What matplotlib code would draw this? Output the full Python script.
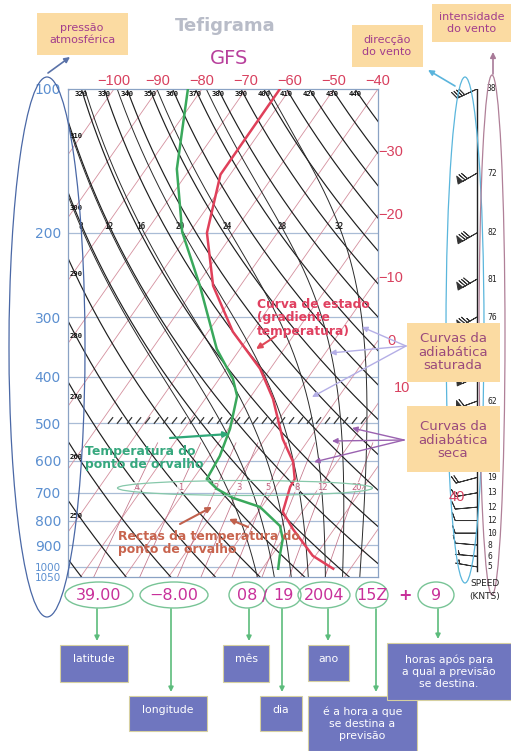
import numpy as np
import matplotlib
matplotlib.use("Agg")
import matplotlib.pyplot as plt
from matplotlib.patches import Ellipse, Rectangle
from matplotlib.ticker import NullLocator

W, H = 511, 751

# GFS profile for 39.00 -8.00, 08/19/2004 15Z + 9h
temp_p = [100, 151, 200, 258, 322, 385, 445, 540, 603, 655, 680, 767, 833, 948, 1009]
temp_c = [-62.3, -62.2, -56.0, -46.2, -34.4, -22.3, -14.6, -6.0, 0.0, 3.1, 3.3, 5.6, 10.6, 19.4, 26.1]
dewp_p = [100, 147, 199, 258, 350, 404, 439, 514, 586, 655, 687, 717, 749, 821, 874, 948, 1009]
dewp_c = [-83.2, -73.0, -61.8, -49.2, -35.3, -26.9, -23.2, -19.6, -17.6, -16.9, -13.0, -8.0,
          -0.4, 7.2, 9.9, 11.9, 13.6]

wind_p = [100, 150, 200, 250, 300, 350, 400, 450, 500, 550, 600, 650, 700, 750, 800, 850, 900, 950, 1000]
wind_kt = [38, 72, 82, 81, 76, 70, 66, 62, 50, 38, 28, 19, 13, 12, 12, 10, 8, 6, 5]
wind_dir = [245, 240, 240, 240, 240, 245, 245, 250, 250, 250, 255, 255, 260, 265, 270, 270, 275, 275, 280]

press_ticks = [100, 200, 300, 400, 500, 600, 700, 800, 900, 1000, 1050]
isobars = [200, 300, 400, 500, 600, 700, 800, 900, 1000]
isotherms = np.arange(-160, 60, 10)
top_temps = [-100, -90, -80, -70, -60, -50, -40]
side_temps = [-30, -20, -10, 0]
theta_k = np.arange(220, 450, 10)
theta_top = np.arange(320, 450, 10)
theta_side = np.arange(250, 320, 10)
theta_w = [8, 12, 16, 20, 24, 28, 32]
mix_gkg = [0.4, 1, 2, 3, 5, 8, 12, 20]
mix_text = ['.4', '1', '2', '3', '5', '8', '12', '20']
hatch_p = 500

header_vals = ['39.00', '\u22128.00', '08', '19', '2004', '15Z', '9']

SKEW = 33.0
XMIN, XMAX = -110.45, -40.0


def skx(t, p):
    return np.asarray(t, float) - SKEW * np.log(np.asarray(p, float) / 100.0)


def theta_temp(th, p):
    return th * (np.asarray(p) / 1000.0) ** 0.2857 - 273.15


RD, CP, LV, EPS = 287.04, 1005.7, 2.501e6, 0.622


def dt_dlnp(tk, p):
    tc = tk - 273.15
    e = 6.112 * np.exp(17.67 * tc / (tc + 243.5))
    rs = EPS * e / (p - e)
    return (RD * tk + LV * rs) / (CP + LV * LV * rs * EPS / (RD * tk * tk))


def moist_adiabat(tw):
    # pseudo-adiabat through (1000 hPa, tw), integrated both ways in ln p
    out = {}
    for lo, hi in ((1000.0, 100.0), (1000.0, 1050.0)):
        lnp = np.linspace(np.log(lo), np.log(hi), 300)
        tk = tw + 273.15
        ts = [tk]
        for a, b in zip(lnp[:-1], lnp[1:]):
            h = b - a
            k1 = dt_dlnp(tk, np.exp(a))
            k2 = dt_dlnp(tk + h * k1, np.exp(b))
            tk = tk + 0.5 * h * (k1 + k2)
            ts.append(tk)
        out[hi] = (np.exp(lnp), np.array(ts) - 273.15)
    p = np.concatenate([out[1050.0][0][::-1], out[100.0][0][1:]])
    t = np.concatenate([out[1050.0][1][::-1], out[100.0][1][1:]])
    return p, t


def mix_temp(w, p):
    e = w / 1000.0 * p / (EPS + w / 1000.0)
    g = np.log(e / 6.112)
    return 243.5 * g / (17.67 - g)


fig = plt.figure(figsize=(W / 100, H / 100), dpi=100)


def frac(x0, y0, x1, y1):
    return [x0 / W, 1 - y1 / H, (x1 - x0) / W, (y1 - y0) / H]


# ---- thermodynamic diagram ----
ax = fig.add_axes(frac(68, 89, 378, 577))
ax.set_yscale('log')
ax.set_ylim(1050, 100)
ax.set_xlim(XMIN, XMAX)
for s in ax.spines.values():
    s.set_color('#8aa2c4')
    s.set_linewidth(0.9)

for p in isobars:
    ax.axhline(p, color='#a9bcd6', lw=0.9, zorder=1)

for t in isotherms:
    ax.plot(skx(t, [100, 1050]), [100, 1050], color='#d4909e', lw=0.6, zorder=1)

pp = np.geomspace(100, 1050, 160)
for th in theta_k:
    ax.plot(skx(theta_temp(th, pp), pp), pp, color='#1e1e1e', lw=0.85, zorder=2)

for tw in theta_w:
    mp, mt = moist_adiabat(tw)
    ax.plot(skx(mt, mp), mp, color='#2a2a2a', lw=0.7, zorder=2)
    x200 = np.interp(np.log(200), np.log(mp[::-1]), skx(mt, mp)[::-1])
    ax.annotate(str(tw), (x200, 200), xytext=(-2, 1), textcoords='offset points',
                ha='center', va='bottom', fontsize=5.5, family='DejaVu Sans Mono',
                fontweight='bold', color='#222', annotation_clip=False)

mpres = np.geomspace(550, 1050, 40)
for w, lbl in zip(mix_gkg, mix_text):
    ax.plot(skx(mix_temp(w, mpres), mpres), mpres, color='#c27489', lw=0.55, zorder=1)
    ax.text(skx(mix_temp(w, 681), 681), 681, lbl, fontsize=6, color='#c0607e',
            ha='center', va='center', zorder=3,
            bbox=dict(fc='white', ec='none', pad=0.3, alpha=0.8))

# hatched marker along 500 hPa
hx = np.arange(-100.8, -43.0, 2.05)
ax.plot(hx, np.full(len(hx), hatch_p * 0.985), ls='none', marker=(2, 0, -38), ms=6,
        mew=0.9, color='#333333', zorder=3)

ax.plot(skx(temp_c, temp_p), temp_p, color='#e0405a', lw=1.8, zorder=4)
ax.plot(skx(dewp_c, dewp_p), dewp_p, color='#3aa85c', lw=1.8, zorder=4)

ax.set_xticks([])
ax.set_yticks(press_ticks)
ax.set_yticklabels([str(v) for v in press_ticks])
ax.yaxis.set_minor_locator(NullLocator())
ax.tick_params(axis='y', length=0, pad=5, labelsize=10, labelcolor='#5b8fd0')
# the two bottom levels sit very close together
for lab in ax.get_yticklabels()[-2:]:
    lab.set_fontsize(7.5)

for t in top_temps:
    ax.annotate('\u2212%d' % abs(t), (skx(t, 100), 100), xytext=(0, 0.5),
                textcoords='offset points', ha='center', va='bottom', fontsize=10.5,
                family='Liberation Sans', color='#d8405e', annotation_clip=False)
for t in side_temps:
    lbl = '\u2212%d' % abs(t) if t < 0 else str(t)
    p = 100 * np.exp((t - XMAX) / SKEW)
    ax.annotate(lbl, (XMAX, p), xytext=(0.5 if t < 0 else 7, 0), textcoords='offset points',
                ha='left', va='center', fontsize=10.5, family='Liberation Sans',
                color='#d8405e', annotation_clip=False)

for th in theta_top:
    ax.annotate(str(th), (skx(theta_temp(th, 100), 100), 100), xytext=(0, -1.5),
                textcoords='offset points', ha='center', va='top', fontsize=5.2,
                family='DejaVu Sans Mono', fontweight='bold', color='#111', zorder=5)
fine = np.geomspace(100, 1050, 2000)
for th in theta_side:
    xs = skx(theta_temp(th, fine), fine)
    pc = fine[np.argmin(np.abs(xs - XMIN))]
    ax.annotate(str(th), (XMIN, pc), xytext=(1, -9), textcoords='offset points',
                ha='left', va='top', fontsize=5.2, family='DejaVu Sans Mono',
                fontweight='bold', color='#111', zorder=5)

# ---- wind column ----
wax = fig.add_axes(frac(440, 89, 511, 577))
wax.set_yscale('log')
wax.set_ylim(1050, 100)
wax.set_xlim(440, 511)
wax.axis('off')
wax.plot([477, 477], [100, 1020], color='#222', lw=1.0)
d = np.radians(wind_dir)
spd = np.array(wind_kt, float)
wax.barbs(np.full(len(wind_p), 477.0), wind_p, -spd * np.sin(d), -spd * np.cos(d),
          length=5.6, linewidth=0.65, color='#333', sizes=dict(emptybarb=0, height=0.35))
for p, s in zip(wind_p, wind_kt):
    wax.text(487, p, str(s), fontsize=5.8, family='DejaVu Sans Mono', va='center',
             ha='left', color='#222')

# ---- annotations ----
ov = fig.add_axes([0, 0, 1, 1])
ov.set_xlim(0, W)
ov.set_ylim(H, 0)
ov.axis('off')


def arrow(tail, head, color, lw=1.2, ms=8):
    ov.annotate('', xy=head, xytext=tail,
                arrowprops=dict(arrowstyle='-|>', color=color, lw=lw, mutation_scale=ms,
                                shrinkA=0, shrinkB=0))


def box(x0, y0, x1, y1, fc, ec='none'):
    ov.add_patch(Rectangle((x0, y0), x1 - x0, y1 - y0, fc=fc, ec=ec, lw=0.8, zorder=3))


ov.text(225, 26, 'Tefigrama', ha='center', va='center', fontsize=13, fontweight='bold',
        color='#b8bcc8')
ov.text(229, 58, 'GFS', ha='center', va='center', fontsize=14, color='#b8409c')

peach = '#fbdba2'
box(37, 13, 128, 55, peach)
ov.text(82, 34, 'pressão\natmosférica', ha='center', va='center', fontsize=8,
        color='#a23d8c', linespacing=1.2, zorder=4)
box(352, 25, 423, 67, peach)
ov.text(387, 46, 'direcção\ndo vento', ha='center', va='center', fontsize=8,
        color='#a23d8c', linespacing=1.2, zorder=4)
box(432, 4, 511, 42, peach)
ov.text(472, 23, 'intensidade\ndo vento', ha='center', va='center', fontsize=8,
        color='#a23d8c', linespacing=1.2, zorder=4)

box(407, 323, 500, 382, peach)
ov.text(453, 352, 'Curvas da\nadiabática\nsaturada', ha='center', va='center', fontsize=9.5,
        color='#9a4a7c', linespacing=1.05, zorder=4)
box(407, 406, 500, 472, peach)
ov.text(453, 440, 'Curvas da\nadiabática\nseca', ha='center', va='center', fontsize=9.5,
        color='#9a4a7c', linespacing=1.05, zorder=4)

ov.add_patch(Ellipse((47, 347), 76, 540, fill=False, ec='#4a68a6', lw=0.9))
ov.add_patch(Ellipse((465, 330), 38, 506, fill=False, ec='#5ab6dc', lw=0.9))
ov.add_patch(Ellipse((492, 335), 26, 520, fill=False, ec='#b08098', lw=0.9))
ov.add_patch(Ellipse((245, 488), 255, 15, fill=False, ec='#86c8aa', lw=0.9))

arrow((48, 73), (70, 57), '#5a72a8')
arrow((455, 86), (428, 70), '#5ab4dc')
arrow((493, 74), (493, 52), '#a87a98')
for head in [(362, 327), (330, 353), (312, 397)]:
    arrow((406, 346), head, '#b4aee6', lw=1.0)
for head in [(352, 428), (332, 441), (314, 462)]:
    arrow((404, 440), head, '#9a62b0', lw=1.0)

ov.text(402, 388, '10', ha='center', va='center', fontsize=10.5, family='Liberation Sans',
        color='#d8405e')
ov.text(457, 497, '40', ha='center', va='center', fontsize=10.5, family='Liberation Sans',
        color='#d8405e')

ov.text(257, 318, 'Curva de estado\n(gradiente\ntemperatura)', ha='left', va='center',
        fontsize=8.8, fontweight='bold', color='#e04060', linespacing=1.0)
arrow((276, 336), (256, 349), '#e04858', lw=1.5)
ov.text(85, 458, 'Temperatura do\nponto de orvalho', ha='left', va='center', fontsize=8.9,
        fontweight='bold', color='#36a87e', linespacing=1.0)
arrow((170, 438), (229, 434), '#2fa878', lw=1.6)
ov.text(118, 543, 'Rectas da temperatura do\nponto de orvalho', ha='left', va='center',
        fontsize=8.9, fontweight='bold', color='#c8644e', linespacing=1.0)
arrow((180, 524), (212, 507), '#c0604c', lw=1.5)
arrow((248, 527), (229, 519), '#c0604c', lw=1.5)

ov.text(485, 584, 'SPEED', ha='center', va='center', fontsize=6.5, color='#222')
ov.text(485, 596, '(KNTS)', ha='center', va='center', fontsize=6.5, color='#222')

# header line under the diagram
mag = '#c8309a'
green = '#5cbc7c'
cells = [(99, 68), (174, 68), (247, 36), (283, 36), (324, 52), (372, 32), (436, 36)]
for (cx, w), val in zip(cells, header_vals):
    ov.add_patch(Ellipse((cx, 595), w, 26, fill=False, ec='#78c496', lw=1.0))
    ov.text(cx, 596, val, ha='center', va='center', fontsize=11.5, color=mag)
ov.text(265, 596, '/', ha='center', va='center', fontsize=11.5, color=mag)
ov.text(405, 596, '+', ha='center', va='center', fontsize=11.5, color=mag, fontweight='bold')

blue_box = '#6f76bf'
labels = [
    (97, (60, 645, 128, 682), 'latitude'),
    (171, (129, 696, 207, 731), 'longitude'),
    (249, (223, 645, 269, 682), 'mês'),
    (282, (260, 696, 302, 731), 'dia'),
    (328, (308, 645, 349, 681), 'ano'),
    (376, (308, 696, 417, 751), 'é a hora a que\nse destina a\nprevisão'),
    (438, (387, 643, 511, 700), 'horas após para\na qual a previsão\nse destina.'),
]
for ax_x, (x0, y0, x1, y1), txt in labels:
    arrow((ax_x, 609), (ax_x, y0 - 4), green, lw=1.2, ms=7)
    box(x0, y0, x1, y1, blue_box, ec='#d6d0a0')
    ty = y0 + 14 if '\n' not in txt else (y0 + y1) / 2
    ov.text((x0 + x1) / 2, ty, txt, ha='center', va='center', fontsize=7.8, color='white',
            linespacing=1.25, zorder=4)

fig.savefig('out.png', dpi=100)
